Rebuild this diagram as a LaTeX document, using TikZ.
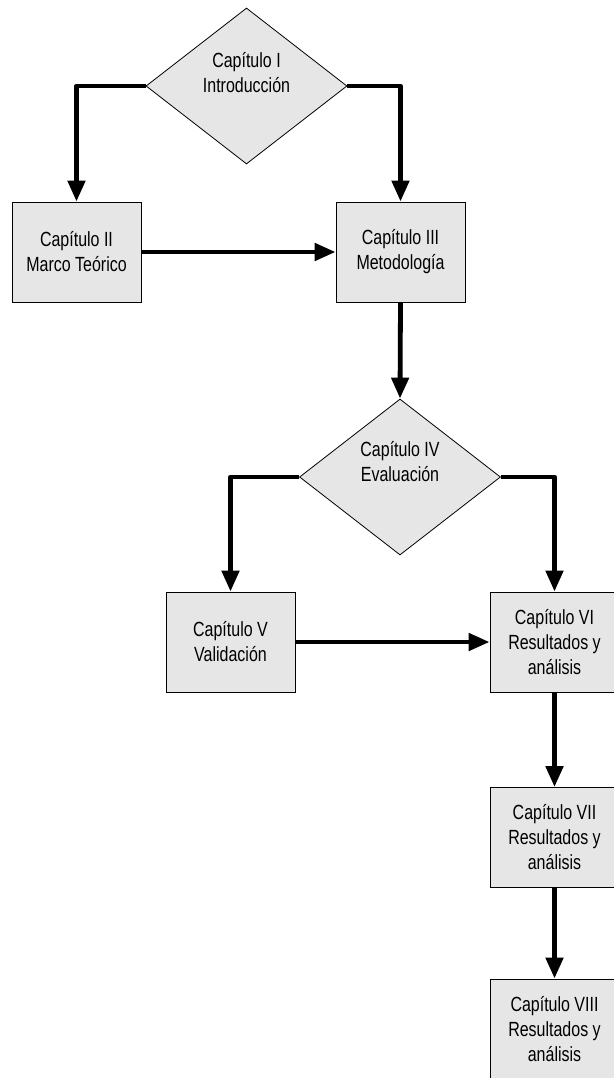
\documentclass[tikz,border=0pt]{standalone}
\usepackage{fontspec}
\setmainfont[FakeStretch=0.78]{Liberation Sans}
\usetikzlibrary{shapes.geometric,arrows.meta}
\definecolor{boxgray}{HTML}{E6E6E6}
\begin{document}
\begin{tikzpicture}[x=1pt,y=-1pt,
  chbox/.style={draw=black,line width=0.8pt,fill=boxgray,rectangle,minimum width=129pt,minimum height=100pt,inner sep=0pt,align=center,font=\fontsize{20.5pt}{25pt}\selectfont},
  chdiam/.style={draw=black,line width=0.8pt,fill=boxgray,diamond,minimum width=201pt,minimum height=156pt,inner sep=0pt},
  chtext/.style={align=center,inner sep=0pt,font=\fontsize{20.5pt}{25pt}\selectfont},
  flow/.style={line width=4.8pt,line join=round,-{Triangle[length=21pt,width=17pt]}}]
\useasboundingbox (0,0) rectangle (613,1078);
\node[chdiam] (d1) at (246.5,86) {};
\node[chtext] (t1) at (246.5,73) {Capítulo I\\Introducción};
\node[chbox] (b2) at (76.5,252) {Capítulo II\\Marco Teórico};
\node[chbox] (b3) at (400.5,252) {Capítulo III\\Metodología};
\node[chdiam] (d2) at (400,477) {};
\node[chtext] (t2) at (400,462) {Capítulo IV\\Evaluación};
\node[chbox] (b5) at (230.5,642) {Capítulo V\\Validación};
\node[chbox] (b6) at (554.5,642) {Capítulo VI\\Resultados y\\análisis};
\node[chbox] (b7) at (554.5,837.5) {Capítulo VII\\Resultados y\\análisis};
\node[chbox] (b8) at (554.5,1029) {Capítulo VIII\\Resultados y\\análisis};
\draw[flow] (d1.west) -| (b2.north);
\draw[flow] (d1.east) -| (b3.north);
\draw[flow] (b2.east) -- (b3.west);
\draw[flow] (b3.south) -- (d2.north);
\draw[flow] (d2.west) -| (b5.north);
\draw[flow] (d2.east) -| (b6.north);
\draw[flow] (b5.east) -- (b6.west);
\draw[flow] (b6.south) -- (b7.north);
\draw[flow] (b7.south) -- (b8.north);
\end{tikzpicture}
\end{document}
